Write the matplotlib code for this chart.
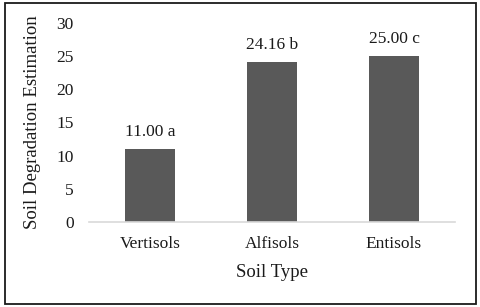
import matplotlib
matplotlib.use("Agg")
import matplotlib.pyplot as plt
from matplotlib.patches import Rectangle

categories = ["Vertisols", "Alfisols", "Entisols"]
values = [11.00, 24.16, 25.00]
letters = ["a", "b", "c"]
yticks = [0, 5, 10, 15, 20, 25, 30]

plt.rcParams['font.family'] = ['Liberation Serif', 'DejaVu Serif']
txt = '#1a1a1a'

fig = plt.figure(figsize=(4.8, 3.07), dpi=100)
ax = fig.add_axes([0.185, 0.277, 0.763, 0.648])
x = list(range(len(categories)))
bars = ax.bar(x, values, width=0.41, color='#595959')
for xi, v, l in zip(x, values, letters):
    ax.text(xi, v + 1.35, f"{v:.2f} {l}", ha='center', va='bottom', fontsize=12.5, color=txt)

ax.set_xlim(-0.5, 2.5)
ax.set_ylim(0, 30)
ax.set_yticks(yticks)
ax.set_xticks(x)
ax.set_xticklabels(categories)
for s in ['top', 'right', 'left']:
    ax.spines[s].set_visible(False)
ax.spines['bottom'].set_color('#d9d9d9')
ax.spines['bottom'].set_linewidth(1.2)
ax.tick_params(axis='both', length=0, labelsize=12.5, colors=txt)
ax.tick_params(axis='y', pad=11)
ax.tick_params(axis='x', pad=10)
ax.set_ylabel("Soil Degradation Estimation", fontsize=13.5, color=txt, labelpad=11)
ax.set_xlabel("Soil Type", fontsize=13.5, color=txt, labelpad=9)

fig.patches.append(Rectangle((0.011, 0.011), 0.98, 0.978, transform=fig.transFigure,
                             fill=False, edgecolor='#1a1a1a', linewidth=1.3))
fig.savefig("out.png", dpi=100)
